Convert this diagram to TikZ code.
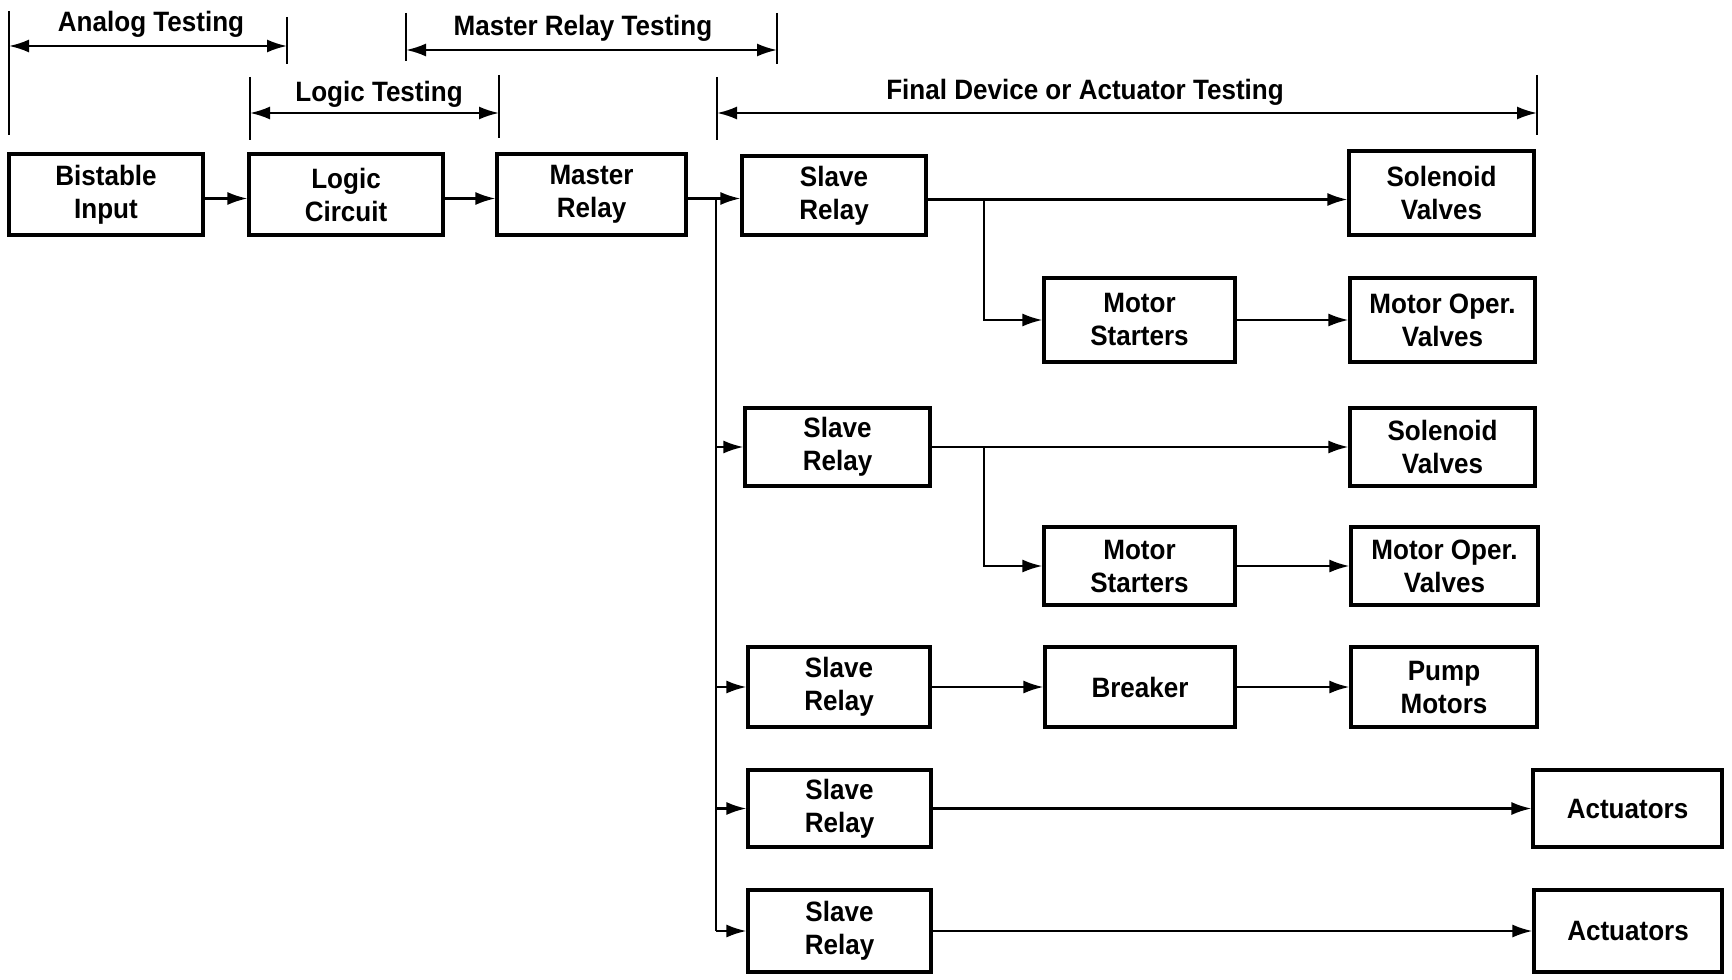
\documentclass[tikz,border=0pt]{standalone}
\usepackage{fontspec}
\newfontfamily\dfont{Liberation Sans}[FakeStretch=0.93]
\usetikzlibrary{arrows.meta,calc}
\begin{document}
\begin{tikzpicture}[x=0.5pt,y=-0.5pt,
  txt/.style={font={\dfont\bfseries\fontsize{14pt}{16.5pt}\selectfont}},
  box/.style={txt, draw, line width=1.6pt, align=center, inner sep=0pt},
  wire/.style={line width=1.1pt},
  conn/.style={wire, -{Latex[length=10pt,width=6.5pt]}},
  dim/.style={wire, {Latex[length=10pt,width=6.5pt]}-{Latex[length=10pt,width=6.5pt]}},
  tick/.style={line width=1.2pt},
  low/.style={yshift=-2pt}]
\useasboundingbox (0,0) rectangle (1732,979);

% ---- boxes ----
\node[box, minimum width=97pt, minimum height=40.5pt] (bi) at (106,194.5) {Bistable\\Input};
\node[box, minimum width=97pt, minimum height=40.5pt] (lc) at (346,194.5) {Logic\\Circuit};
\node[box, minimum width=94.5pt, minimum height=40.5pt] (mr) at (591.5,194.5) {Master\\Relay};

\node[box, minimum width=92pt, minimum height=39.5pt] (s1) at (834,195.5) {Slave\\Relay};
\node[box, minimum width=92.5pt, minimum height=42pt] (sv1) at (1441.5,193) {Solenoid\\Valves};
\node[box, minimum width=95.5pt, minimum height=42pt] (ms1) at (1139.5,320) {Motor\\Starters};
\node[box, minimum width=92.5pt, minimum height=42pt] (mv1) at (1442.5,320) {Motor Oper.\\Valves};

\node[box, minimum width=92.5pt, minimum height=39pt] (s2) at (837.5,447) {Slave\\Relay};
\node[box, minimum width=92.5pt, minimum height=39pt] (sv2) at (1442.5,447) {Solenoid\\Valves};
\node[box, minimum width=95.5pt, minimum height=39pt] (ms2) at (1139.5,566) {Motor\\Starters};
\node[box, minimum width=93.5pt, minimum height=39pt] (mv2) at (1444.5,566) {Motor Oper.\\Valves};

\node[box, minimum width=91pt, minimum height=40pt] (s3) at (839,687) {Slave\\Relay};
\node[box, minimum width=95pt, minimum height=40pt] (bk) at (1140,687) {Breaker};
\node[box, minimum width=93pt, minimum height=40pt] (pm) at (1444,687) {Pump\\Motors};

\node[box, minimum width=91.5pt, minimum height=38.5pt] (s4) at (839.5,808.5) {Slave\\Relay};
\node[box, minimum width=94.5pt, minimum height=38.5pt] (ac1) at (1627.5,808.5) {Actuators};

\node[box, minimum width=91.5pt, minimum height=41pt] (s5) at (839.5,931) {Slave\\Relay};
\node[box, minimum width=94pt, minimum height=41pt] (ac2) at (1628,931) {Actuators};

% ---- connectors ----
\coordinate (bus) at (716,0);
\coordinate (br) at (984,0);
\draw[conn] ([low]bi.east) -- ([low]bi.east -| lc.west);
\draw[conn] ([low]lc.east) -- ([low]lc.east -| mr.west);
\draw[conn] ([low]mr.east) -- ([low]mr.east -| s1.west);
\draw[wire] ([low]mr.east -| bus) -- (bus |- s5.west);
\draw[conn] (bus |- s2.west) -- (s2.west);
\draw[conn] (bus |- s3.west) -- (s3.west);
\draw[conn] (bus |- s4.west) -- (s4.west);
\draw[conn] (bus |- s5.west) -- (s5.west);

\draw[conn] ([low]s1.east) -- ([low]s1.east -| sv1.west);
\draw[conn] ([low]s1.east -| br) |- (ms1.west);
\draw[conn] (ms1.east) -- (ms1.east -| mv1.west);

\draw[conn] (s2.east) -- (s2.east -| sv2.west);
\draw[conn] (s2.east -| br) |- (ms2.west);
\draw[conn] (ms2.east) -- (ms2.east -| mv2.west);

\draw[conn] (s3.east) -- (bk.west);
\draw[conn] (bk.east) -- (pm.west);
\draw[conn] (s4.east) -- (ac1.west);
\draw[conn] (s5.east) -- (ac2.west);

% ---- dimension lines ----
% Analog Testing
\coordinate (a1t) at (9,11);   \coordinate (a1b) at (9,135);
\coordinate (a2t) at (287,17); \coordinate (a2b) at (287,64);
\coordinate (aL) at (9,46);    \coordinate (aR) at (287,46);
\draw[tick] (a1t) -- (a1b);
\draw[tick] (a2t) -- (a2b);
\draw[dim] (aL) -- (aR);
\node[txt] (atxt) at (151,24) {Analog Testing};

% Master Relay Testing
\coordinate (m1t) at (406,13); \coordinate (m1b) at (406,61);
\coordinate (m2t) at (777,13); \coordinate (m2b) at (777,64);
\coordinate (mL) at (406,50);  \coordinate (mR) at (777,50);
\draw[tick] (m1t) -- (m1b);
\draw[tick] (m2t) -- (m2b);
\draw[dim] (mL) -- (mR);
\node[txt] (mtxt) at (583,28) {Master Relay Testing};

% Logic Testing
\coordinate (l1t) at (250,77); \coordinate (l1b) at (250,140);
\coordinate (l2t) at (499,75); \coordinate (l2b) at (499,138);
\coordinate (lL) at (250,113); \coordinate (lR) at (499,113);
\draw[tick] (l1t) -- (l1b);
\draw[tick] (l2t) -- (l2b);
\draw[dim] (lL) -- (lR);
\node[txt] (ltxt) at (379,94) {Logic Testing};

% Final Device or Actuator Testing
\coordinate (f1t) at (717,77);  \coordinate (f1b) at (717,140);
\coordinate (f2t) at (1537,75); \coordinate (f2b) at (1537,135);
\coordinate (fL) at (717,113);  \coordinate (fR) at (1537,113);
\draw[tick] (f1t) -- (f1b);
\draw[tick] (f2t) -- (f2b);
\draw[dim] (fL) -- (fR);
\node[txt] (ftxt) at (1085,92) {Final Device or Actuator Testing};
\end{tikzpicture}
\end{document}
